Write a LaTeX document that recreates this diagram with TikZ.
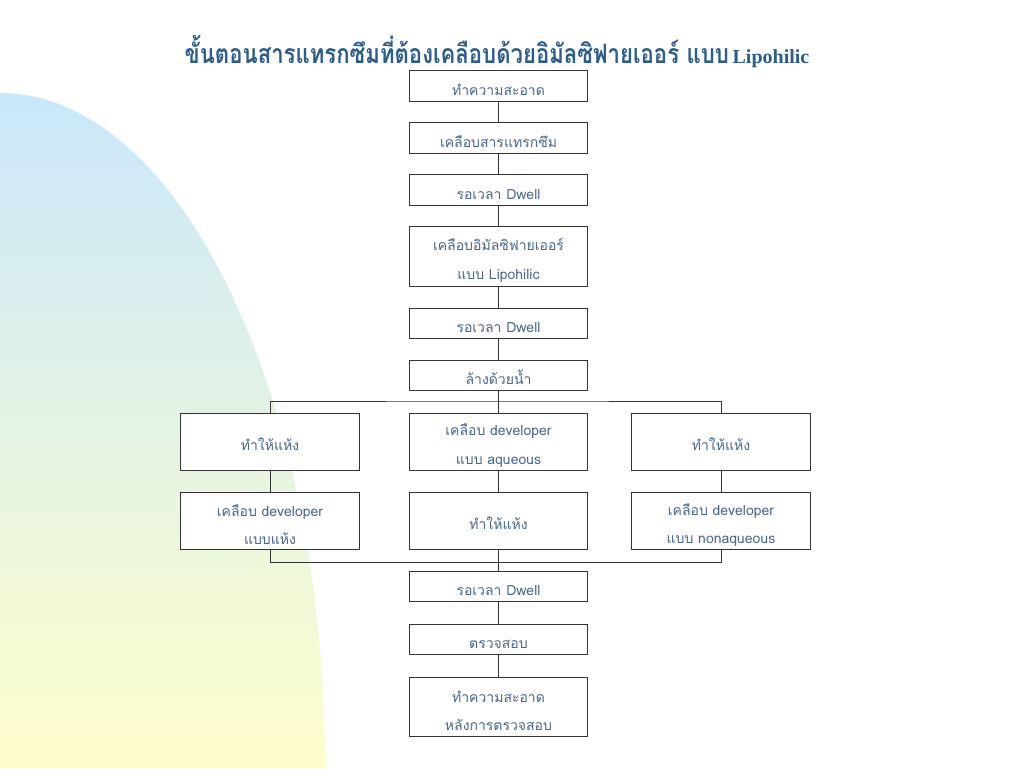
\documentclass[tikz,border=0pt]{standalone}
\usepackage{fontspec}
\setmainfont{Liberation Sans}
\newfontfamily\thai[Script=Thai]{Loma}
\newfontfamily\titlelat{Liberation Serif}
\definecolor{txt}{HTML}{46678F}
\definecolor{ttl}{HTML}{2B5D8F}
\definecolor{bgtop}{HTML}{CAE8FB}
\definecolor{bgbot}{HTML}{FEFECB}
\definecolor{edge}{HTML}{333333}
\tikzset{
  box/.style={draw=edge, fill=white, line width=0.6pt, text=txt, align=center,
    inner sep=0pt, minimum width=134pt, minimum height=23pt,
    font={\thai\fontsize{10.5}{21.5}\selectfont},
    execute at begin node={\rule{0pt}{14pt}}},
  twoline/.style={box, minimum height=45pt},
  rowbox/.style={box, minimum height=42.75pt},
  dbl/.style={execute at begin node={\rule{0pt}{36.5pt}}},
  link/.style={draw=edge, line width=0.6pt}
}
\begin{document}
\begin{tikzpicture}[x=0.75pt,y=-0.75pt]
\useasboundingbox (0,0) rectangle (1024,768);
\fill[white] (0,0) rectangle (1024,768);
\shade[top color=bgtop, bottom color=bgbot] (0,93) arc[start angle=270, end angle=360, x radius=325, y radius=675] -- (325,768) -- (0,768) -- cycle;

\node[text=ttl, inner sep=0pt] (title) at (497,51) {\scalebox{0.83}[1]{\thai\bfseries\fontsize{20}{24}\selectfont ขั้นตอนสารแทรกซึมที่ต้องเคลือบด้วยอิมัลซิฟายเออร์ แบบ} {\titlelat\bfseries\fontsize{15}{20}\selectfont Lipohilic}};

\node[box] (b1) at (498.5,86) {ทำความสะอาด};
\node[box] (b2) at (498.5,138) {เคลือบสารแทรกซึม};
\node[box] (b3) at (498.5,190) {รอเวลา Dwell};
\node[twoline, dbl] (b4) at (498.5,256.5) {เคลือบอิมัลซิฟายเออร์\\แบบ Lipohilic};
\node[box] (b5) at (498.5,323.5) {รอเวลา Dwell};
\node[box] (b6) at (498.5,375.5) {ล้างด้วยน้ำ};

\node[rowbox] (l1) at (270,441.5) {ทำให้แห้ง};
\node[rowbox, dbl] (c1) at (498.5,441.5) {เคลือบ developer\\แบบ aqueous};
\node[rowbox] (r1) at (721,441.5) {ทำให้แห้ง};
\node[rowbox, dbl] (l2) at (270,520.5) {เคลือบ developer\\แบบแห้ง};
\node[rowbox] (c2) at (498.5,520.5) {ทำให้แห้ง};
\node[rowbox, dbl] (r2) at (721,521) {เคลือบ developer\\แบบ nonaqueous};

\node[box] (b7) at (498.5,586.5) {รอเวลา Dwell};
\node[box] (b8) at (498.5,639.5) {ตรวจสอบ};
\node[box, dbl, minimum height=44.25pt] (b9) at (498.5,706.5) {ทำความสะอาด\\หลังการตรวจสอบ};

\coordinate (sp) at (498.5,401);
\coordinate (jn) at (498.5,562);

\path[link] (b1) -- (b2);
\path[link] (b2) -- (b3);
\path[link] (b3) -- (b4);
\path[link] (b4) -- (b5);
\path[link] (b5) -- (b6);
\path[link] (b6) -- (c1);
\path[link] (l1.north) |- (sp) -| (r1.north);
\path[link] (l1) -- (l2);
\path[link] (c1) -- (c2);
\path[link] (r1) -- (r2);
\path[link] (l2.south) |- (jn) -| (r2.south);
\path[link] (c2) -- (b7);
\path[link] (b7) -- (b8);
\path[link] (b8) -- (b9);
\end{tikzpicture}
\end{document}
